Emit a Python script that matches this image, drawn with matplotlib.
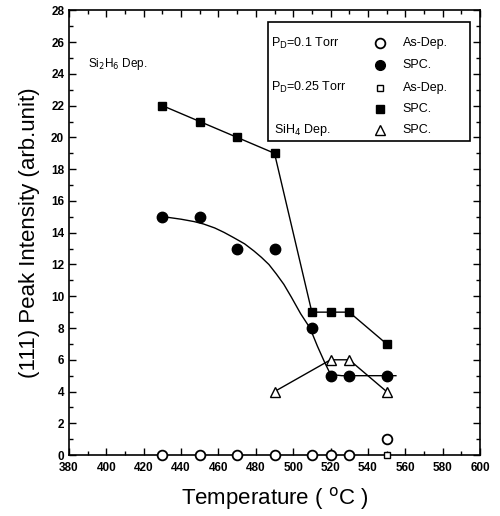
import matplotlib.pyplot as plt
from matplotlib.ticker import MultipleLocator
from matplotlib.patches import Rectangle

plt.rcParams['font.family'] = ['Liberation Sans', 'DejaVu Sans']

# --- data ---
temp = [430, 450, 470, 490, 510, 520, 530, 550]
spc_01 = [15, 15, 13, 13, 8, 5, 5, 5]          # filled circles, PD=0.1 Torr
asdep_01 = [0, 0, 0, 0, 0, 0, 0, 1]            # open circles
spc_025 = [22, 21, 20, 19, 9, 9, 9, 7]         # filled squares, PD=0.25 Torr
asdep_025_t = [550]
asdep_025 = [0]                                # open square
sih4_t = [490, 520, 530, 550]
sih4_spc = [4, 6, 6, 4]                        # open triangles

# fitted curve through filled circles
fit_t = [431, 440, 447, 452, 458, 463, 468, 474, 479, 483, 487, 491, 495, 499,
         504, 509, 513, 517, 519.5, 522, 526, 535, 555]
fit_v = [15.0, 14.85, 14.7, 14.55, 14.3, 14.02, 13.7, 13.3, 12.85, 12.45, 12.0, 11.4,
         10.75, 9.95, 8.9, 8.0, 6.85, 5.8, 5.2, 5.05, 5.0, 5.0, 5.0]

fig = plt.figure(figsize=(5.0, 5.16), dpi=100)
ax = fig.add_axes([0.138, 0.118, 0.822, 0.862])

ax.plot(fit_t, fit_v, color='black', lw=1.0)
ax.plot(temp, spc_025, color='black', lw=1.0, marker='s', ms=6, mfc='black', mec='black')
ax.plot(temp, spc_01, 'o', color='black', ms=7.5)
ax.plot(sih4_t, sih4_spc, color='black', lw=1.0, marker='^', ms=7.5, mfc='white', mec='black', mew=1.0)
ax.plot(temp, asdep_01, 'o', ms=7, mfc='white', mec='black', mew=1.3, clip_on=False, zorder=4)
ax.plot(asdep_025_t, asdep_025, 's', ms=5, mfc='white', mec='black', mew=1.0, clip_on=False, zorder=4)

ax.set_xlim(380, 600)
ax.set_ylim(0, 28)
ax.xaxis.set_major_locator(MultipleLocator(20))
ax.xaxis.set_minor_locator(MultipleLocator(10))
ax.yaxis.set_major_locator(MultipleLocator(2))
ax.yaxis.set_minor_locator(MultipleLocator(1))
ax.tick_params(which='both', direction='in', top=True, right=True, width=1.0)
ax.tick_params(which='major', length=5, labelsize=8.5)
ax.tick_params(which='minor', length=3)
ax.tick_params(axis='x', which='major', pad=5)
for lab in ax.get_xticklabels() + ax.get_yticklabels():
    lab.set_fontweight('bold')
for s in ax.spines.values():
    s.set_linewidth(1.2)

ax.set_xlabel('Temperature ( $^{\\rm o}$C )', fontsize=16, labelpad=8)
ax.set_ylabel('(111) Peak Intensity (arb.unit)', fontsize=16, labelpad=8)

ax.text(390, 24.6, 'Si$_2$H$_6$ Dep.', fontsize=8.5, va='center')

# legend box drawn by hand
tr = ax.transAxes
ax.add_patch(Rectangle((0.485, 0.706), 0.49, 0.268, transform=tr, fill=False, lw=1.2, zorder=5))
rows = [0.926, 0.878, 0.826, 0.778, 0.730]
fs = 9
ax.text(0.491, rows[0], 'P$_{\\rm D}$=0.1 Torr', transform=tr, fontsize=fs, va='center')
ax.text(0.491, rows[2], 'P$_{\\rm D}$=0.25 Torr', transform=tr, fontsize=fs, va='center')
ax.text(0.500, rows[4], 'SiH$_4$ Dep.', transform=tr, fontsize=fs, va='center')
mx = 0.757
ax.plot([mx], [rows[0]], 'o', transform=tr, ms=7, mfc='white', mec='black', mew=1.3)
ax.plot([mx], [rows[1]], 'o', transform=tr, ms=7, color='black')
ax.plot([mx], [rows[2]], 's', transform=tr, ms=5, mfc='white', mec='black')
ax.plot([mx], [rows[3]], 's', transform=tr, ms=6, color='black')
ax.plot([mx], [rows[4]], '^', transform=tr, ms=7, mfc='white', mec='black')
labels = ['As-Dep.', 'SPC.', 'As-Dep.', 'SPC.', 'SPC.']
for r, t in zip(rows, labels):
    ax.text(0.812, r, t, transform=tr, fontsize=fs, va='center')

fig.savefig('out.png', dpi=100)
